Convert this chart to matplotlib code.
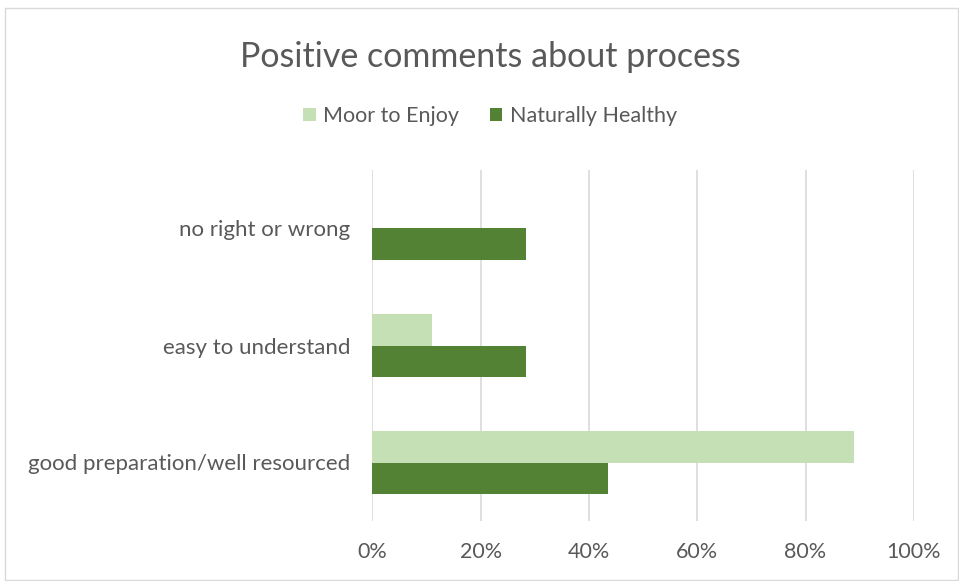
import matplotlib
matplotlib.use("Agg")
import matplotlib.pyplot as plt
from matplotlib.patches import Rectangle
import numpy as np

categories = ["good preparation/well resourced", "easy to understand", "no right or wrong"]
series_names = ["Moor to Enjoy", "Naturally Healthy"]
moor_to_enjoy = [88.9, 11.1, 0.0]
naturally_healthy = [43.6, 28.3, 28.3]
xticks = [0, 20, 40, 60, 80, 100]
xtick_labels = ["0%", "20%", "40%", "60%", "80%", "100%"]

light = "#C5E0B4"
dark = "#548235"
text_col = "#595959"
grid_col = "#D9D9D9"

plt.rcParams['font.family'] = ['Lato', 'DejaVu Sans']

fig = plt.figure(figsize=(9.59, 5.81), dpi=100)
W, H = 959, 581
ax = fig.add_axes([372.3 / W, 1 - 521 / H, (913.8 - 372.3) / W, (521 - 170) / H])

y = np.arange(len(categories))
h = 0.265
ax.barh(y + h / 2, moor_to_enjoy, height=h, color=light, label=series_names[0], zorder=3)
ax.barh(y - h / 2, naturally_healthy, height=h, color=dark, label=series_names[1], zorder=3)

ax.set_xlim(0, 100)
ax.set_ylim(-0.5, len(categories) - 0.5)
ax.set_xticks(xticks)
ax.set_xticklabels(xtick_labels, color=text_col, fontsize=15.5)
ax.set_yticks(y)
ax.set_yticklabels(categories, color=text_col, fontsize=16)
ax.tick_params(axis='both', length=0)
ax.tick_params(axis='x', pad=15)
ax.tick_params(axis='y', pad=16)
ax.xaxis.grid(True, color=grid_col, linewidth=1.2, zorder=0)
ax.yaxis.grid(False)
for s in ax.spines.values():
    s.set_visible(False)

fig.text(490 / W, 1 - 57 / H, "Positive comments about process", ha='center', va='center',
         fontsize=24.5, color=text_col)
leg = fig.legend(loc='center', bbox_to_anchor=(490 / W, 1 - 116 / H), ncol=2, frameon=False,
                 fontsize=15.5, handlelength=0.6, handleheight=0.6, columnspacing=1.4,
                 handletextpad=0.35, labelcolor=text_col)

fig.patches.append(Rectangle((5 / W, 1 - 580 / H), (958 - 5) / W, (580 - 8) / H,
                             transform=fig.transFigure, fill=False, edgecolor="#D9D9D9",
                             linewidth=1.0))

fig.savefig("out.png", dpi=100, facecolor="white")
